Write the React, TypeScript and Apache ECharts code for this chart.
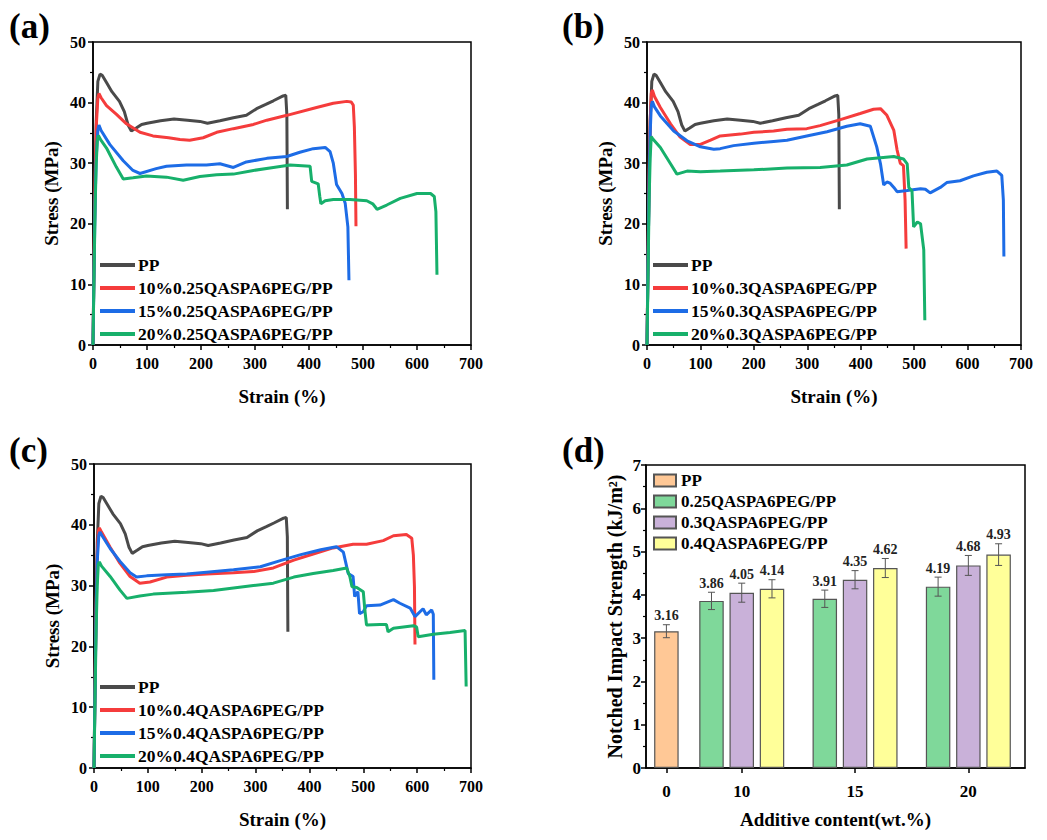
import { useEffect, useRef } from 'react'
import * as echarts from 'echarts'

const FONT = '"Liberation Serif", "Times New Roman", serif'

// stress-strain curves as [strain %, stress MPa]
const ppCurve = [[0, 0], [2, 14], [4, 27], [6, 37], [9, 43.5], [13, 44.7], [17, 44.5], [25, 43.3], [35, 41.8], [49, 40.2], [58, 38.5], [65, 36.3], [71, 35.3], [80, 35.8], [90, 36.4], [100, 36.6], [125, 37], [150, 37.3], [175, 37.1], [198, 36.9], [212, 36.6], [235, 37], [260, 37.5], [284, 37.9], [303, 39], [320, 39.7], [334, 40.3], [352, 41.1], [357, 41.2], [359, 38], [360, 22.4]]

const a10 = [[0, 0], [2, 15], [4, 28], [6, 36], [9, 40.8], [11, 41.5], [15, 40.8], [25, 39.5], [43, 38.1], [62, 36.5], [87, 35.1], [111, 34.5], [140, 34.2], [161, 33.9], [179, 33.8], [204, 34.2], [229, 35.1], [260, 35.7], [297, 36.4], [322, 37.1], [359, 37.9], [414, 39.2], [445, 39.9], [470, 40.2], [478, 40.1], [482, 39.6], [484, 36], [486, 28], [487, 19.6]]
const a15 = [[0, 0], [2, 13], [4, 24], [6, 31], [9, 35.5], [11, 36.3], [15, 35.4], [31, 33.1], [56, 30.4], [74, 28.8], [87, 28.3], [117, 29.1], [136, 29.5], [173, 29.7], [210, 29.7], [235, 29.9], [260, 29.3], [284, 30.2], [322, 30.8], [359, 31.1], [383, 31.8], [408, 32.4], [430, 32.6], [439, 31.9], [445, 30], [451, 26.5], [461, 25], [467, 23.4], [472, 19.5], [474, 10.7]]
const a20 = [[0, 0], [2, 12], [4, 23], [6, 30], [8, 33.8], [10, 34.6], [14, 33.9], [25, 32.5], [43, 29.4], [56, 27.4], [74, 27.6], [99, 27.9], [136, 27.7], [167, 27.2], [198, 27.8], [229, 28.1], [260, 28.2], [297, 28.8], [334, 29.3], [365, 29.7], [402, 29.5], [405, 27], [417, 26.6], [420, 24.5], [422, 23.3], [430, 23.8], [445, 24], [476, 24], [507, 23.8], [518, 23.3], [526, 22.4], [544, 23.1], [569, 24.2], [600, 25], [625, 25], [632, 24.5], [635, 22], [637, 11.6]]

const b10 = [[0, 0], [2, 15], [4, 29], [6, 37], [8, 41.5], [10, 42.1], [14, 41], [25, 39.2], [44, 36.5], [62, 34.3], [81, 33.1], [100, 33.1], [119, 33.8], [137, 34.5], [175, 34.8], [200, 35.1], [237, 35.3], [262, 35.6], [299, 35.7], [324, 36.2], [362, 37.2], [399, 38.2], [424, 38.9], [437, 39], [449, 37.9], [462, 35.4], [468, 32.2], [474, 30], [480, 29.6], [483, 24], [485, 15.9]]
const b15 = [[0, 0], [2, 14], [4, 27], [6, 35], [8, 39.5], [10, 40.2], [14, 39.3], [25, 37.8], [50, 35.3], [75, 33.7], [100, 32.7], [125, 32.3], [137, 32.4], [162, 32.9], [200, 33.3], [237, 33.6], [262, 33.8], [299, 34.5], [337, 35.2], [374, 36.1], [399, 36.5], [418, 36.1], [430, 32.7], [437, 29.9], [443, 26.4], [449, 26.9], [455, 26.7], [462, 26], [468, 25.3], [487, 25.5], [512, 25.8], [521, 25.7], [530, 25.1], [549, 26], [561, 26.8], [586, 27.1], [611, 27.9], [636, 28.5], [655, 28.7], [664, 28], [667, 23.9], [668, 14.6]]
const b20 = [[0, 0], [2, 12], [4, 24], [6, 31], [8, 34.4], [11, 34], [25, 32.6], [44, 29.9], [56, 28.2], [75, 28.7], [100, 28.6], [137, 28.7], [200, 28.9], [262, 29.2], [324, 29.3], [374, 29.7], [412, 30.7], [437, 30.9], [462, 31.1], [480, 30.7], [487, 29.9], [490, 26], [496, 25.4], [499, 19.5], [506, 20.3], [512, 20], [518, 15.7], [520, 4.1]]

const c10 = [[0, 0], [2, 14], [4, 27], [6, 35], [8, 39], [10, 39.5], [14, 38.8], [30, 36.3], [48, 33.7], [67, 31.5], [85, 30.4], [104, 30.6], [135, 31.4], [172, 31.7], [209, 31.9], [259, 32.1], [296, 32.3], [333, 32.9], [371, 34.2], [407, 35.2], [444, 36.2], [481, 36.8], [506, 36.8], [537, 37.4], [556, 38.2], [580, 38.4], [590, 37.8], [593, 35], [595, 29.8], [596, 20.3]]
const c15 = [[0, 0], [2, 13], [4, 26], [6, 34], [9, 38.3], [11, 38.8], [15, 38.2], [30, 36.1], [48, 34], [67, 32.1], [79, 31.4], [98, 31.6], [135, 31.8], [172, 31.9], [209, 32.2], [259, 32.6], [309, 33.1], [346, 34.1], [384, 35.1], [421, 35.9], [450, 36.4], [463, 35.5], [472, 32], [481, 31.5], [484, 28.2], [490, 29], [493, 25.4], [500, 25.7], [506, 26.7], [531, 26.8], [556, 27.7], [568, 27.1], [587, 26.3], [596, 24.9], [611, 26.2], [617, 25.2], [627, 26], [630, 25.3], [631, 14.5]]
const c20 = [[0, 0], [2, 12], [4, 23], [6, 30], [8, 33.5], [10, 33.9], [14, 33.2], [30, 31.5], [48, 29.3], [61, 27.9], [85, 28.3], [110, 28.6], [172, 28.9], [222, 29.2], [259, 29.6], [296, 30], [333, 30.4], [371, 31.4], [407, 32], [444, 32.5], [469, 32.9], [475, 31.5], [479, 29.8], [488, 29.7], [500, 29], [503, 25.9], [506, 23.5], [531, 23.6], [543, 23.6], [546, 22.4], [556, 23], [593, 23.4], [599, 23.2], [602, 21.6], [630, 22], [661, 22.3], [689, 22.6], [691, 13.4]]

// impact strength (d)
const contents = ['0', '10', '15', '20']
const ppImpact = [3.16]
const ppErr = [0.15]
const impact025 = [3.86, 3.91, 4.19]
const err025 = [0.2, 0.2, 0.22]
const impact03 = [4.05, 4.35, 4.68]
const err03 = [0.22, 0.21, 0.23]
const impact04 = [4.14, 4.62, 4.93]
const err04 = [0.21, 0.22, 0.25]

const lineColors = ['#4a4a4a', '#f53c3c', '#1d6ce6', '#17b06b']
const barColors = ['#ffc896', '#7fd89a', '#c9b1d9', '#ffff99']

// x positions of the groups in (d), in group-spacing units
const groupCenter = [0.18, 0.845, 1.845, 2.845]
const slot = 0.267

const grids = [
  { left: 93, top: 42, width: 378, height: 303 },
  { left: 647, top: 42, width: 374, height: 303 },
  { left: 94, top: 464, width: 377, height: 304 },
  { left: 646, top: 465, width: 379, height: 303 },
]

const tickStyle = { color: '#000', width: 1.5 }
const labelStyle = { color: '#000', fontFamily: FONT, fontWeight: 'bold' as const, fontSize: 16 }
const nameStyle = { color: '#000', fontFamily: FONT, fontWeight: 'bold' as const, fontSize: 19 }

function stressX(i: number) {
  return {
    type: 'value', gridIndex: i, min: 0, max: 700, interval: 100,
    name: 'Strain (%)', nameLocation: 'middle', nameGap: 42, nameTextStyle: nameStyle,
    axisLine: { show: true, lineStyle: tickStyle },
    axisTick: { show: true, length: 5, lineStyle: tickStyle },
    minorTick: { show: true, splitNumber: 2, length: 3, lineStyle: { color: '#000', width: 1.2 } },
    axisLabel: { ...labelStyle, margin: 10 },
    splitLine: { show: false },
  }
}

function stressY(i: number) {
  return {
    type: 'value', gridIndex: i, min: 0, max: 50, interval: 10,
    name: 'Stress (MPa)', nameLocation: 'middle', nameGap: 32, nameTextStyle: nameStyle,
    axisLine: { show: true, lineStyle: tickStyle },
    axisTick: { show: true, length: 5, lineStyle: tickStyle },
    minorTick: { show: true, splitNumber: 2, length: 3, lineStyle: { color: '#000', width: 1.2 } },
    axisLabel: { ...labelStyle, margin: 7 },
    splitLine: { show: false },
  }
}

const panels = [
  { key: 'a', label: '0.25', curves: [ppCurve, a10, a15, a20] },
  { key: 'b', label: '0.3', curves: [ppCurve, b10, b15, b20] },
  { key: 'c', label: '0.4', curves: [ppCurve, c10, c15, c20] },
]

const legendPos = [
  { left: 100, top: 256 },
  { left: 653, top: 256 },
  { left: 100, top: 678 },
]

export default function App() {
  const ref = useRef<HTMLDivElement>(null)

  useEffect(() => {
    document.body.style.margin = '0'
    if (!ref.current) return
    const chart = echarts.init(ref.current, null, { renderer: 'svg' })

    const series: any[] = []
    const legends: any[] = []
    panels.forEach((p, i) => {
      const names = ['PP', `10%${p.label}QASPA6PEG/PP`, `15%${p.label}QASPA6PEG/PP`, `20%${p.label}QASPA6PEG/PP`]
      names.forEach((n, k) => {
        series.push({
          type: 'line', name: `${p.key}|${n}`, xAxisIndex: i, yAxisIndex: i,
          data: p.curves[k], showSymbol: false, color: lineColors[k],
          lineStyle: { width: 3, color: lineColors[k] },
        })
      })
      legends.push({
        ...legendPos[i], orient: 'vertical', padding: 0, itemGap: 5,
        icon: 'rect', itemWidth: 35, itemHeight: 4,
        data: names.map((n) => `${p.key}|${n}`),
        formatter: (name: string) => name.split('|')[1],
        textStyle: { color: '#000', fontFamily: FONT, fontWeight: 'bold', fontSize: 17.5, lineHeight: 17, padding: [0, 0, 0, -2] },
      })
    })

    const barNames = ['PP', '0.25QASPA6PEG/PP', '0.3QASPA6PEG/PP', '0.4QASPA6PEG/PP']
    const barSets = [
      { vals: ppImpact, errs: ppErr, pos: [groupCenter[0]] },
      { vals: impact025, errs: err025, pos: groupCenter.slice(1).map((c) => c - slot) },
      { vals: impact03, errs: err03, pos: groupCenter.slice(1) },
      { vals: impact04, errs: err04, pos: groupCenter.slice(1).map((c) => c + slot) },
    ]
    const errData: number[][] = []
    barSets.forEach((s, k) => {
      series.push({
        type: 'bar', name: `d|${barNames[k]}`, xAxisIndex: 3, yAxisIndex: 3,
        barWidth: 24.5, barGap: '-100%',
        data: s.vals.map((v, j) => [s.pos[j], v]),
        itemStyle: { color: barColors[k], borderColor: '#555', borderWidth: 1.2 },
      })
      s.vals.forEach((v, j) => errData.push([s.pos[j], v, s.errs[j]]))
    })
    series.push({
      type: 'custom', xAxisIndex: 3, yAxisIndex: 3, data: errData, z: 5,
      encode: { x: 0, y: 1 },
      renderItem: (_params: any, api: any) => {
        const x = api.value(0)
        const y = api.value(1)
        const e = api.value(2)
        const top = api.coord([x, y + e])
        const bot = api.coord([x, y - e])
        const st = { stroke: '#555', lineWidth: 1 }
        return {
          type: 'group',
          children: [
            { type: 'line', shape: { x1: top[0], y1: top[1], x2: bot[0], y2: bot[1] }, style: st },
            { type: 'line', shape: { x1: top[0] - 3.5, y1: top[1], x2: top[0] + 3.5, y2: top[1] }, style: st },
            { type: 'line', shape: { x1: bot[0] - 3.5, y1: bot[1], x2: bot[0] + 3.5, y2: bot[1] }, style: st },
            {
              type: 'text',
              style: {
                text: y.toFixed(2), x: top[0], y: top[1] - 2, align: 'center', verticalAlign: 'bottom',
                fontFamily: FONT, fontWeight: 'bold', fontSize: 14, fill: '#222',
              },
            },
          ],
        }
      },
    })
    legends.push({
      left: 653, top: 472, orient: 'vertical', padding: 0, itemGap: 4,
      icon: 'rect', itemWidth: 22, itemHeight: 12,
      data: barNames.map((n) => `d|${n}`),
      formatter: (name: string) => name.split('|')[1],
      textStyle: { color: '#000', fontFamily: FONT, fontWeight: 'bold', fontSize: 17, lineHeight: 17 },
    })

    const panelLabel = (text: string, left: number, top: number) => ({
      type: 'text', left, top, style: { text, fontFamily: FONT, fontWeight: 'bold', fontSize: 35, fill: '#000' },
    })

    chart.setOption({
      animation: false,
      backgroundColor: '#fff',
      textStyle: { fontFamily: FONT },
      grid: grids.map((g) => ({ ...g, show: true, borderColor: '#000', borderWidth: 1.5, backgroundColor: 'transparent' })),
      xAxis: [
        stressX(0), stressX(1), stressX(2),
        {
          type: 'value', gridIndex: 3, min: 0, max: 3.345,
          name: 'Additive content(wt.%)', nameLocation: 'middle', nameGap: 42, nameTextStyle: nameStyle,
          axisLine: { show: true, lineStyle: tickStyle },
          axisTick: { show: true, length: 5, lineStyle: tickStyle, customValues: groupCenter },
          axisLabel: {
            ...labelStyle, fontSize: 17, margin: 15, customValues: groupCenter,
            formatter: (v: number) => {
              let best = 0
              groupCenter.forEach((c, i) => { if (Math.abs(c - v) < Math.abs(groupCenter[best] - v)) best = i })
              return contents[best]
            },
          },
          splitLine: { show: false },
        },
      ],
      yAxis: [
        stressY(0), stressY(1), stressY(2),
        {
          type: 'value', gridIndex: 3, min: 0, max: 7, interval: 1,
          name: 'Notched Impact Strength (kJ/m²)', nameLocation: 'middle', nameGap: 21,
          nameTextStyle: { ...nameStyle, fontSize: 20 },
          axisLine: { show: true, lineStyle: tickStyle },
          axisTick: { show: true, length: 5, lineStyle: tickStyle },
          minorTick: { show: true, splitNumber: 2, length: 3, lineStyle: { color: '#000', width: 1.2 } },
          axisLabel: { ...labelStyle, fontSize: 17, margin: 5 },
          splitLine: { show: false },
        },
      ],
      legend: legends,
      graphic: [
        panelLabel('(a)', 9, 9),
        panelLabel('(b)', 562, 9),
        panelLabel('(c)', 9, 433),
        panelLabel('(d)', 562, 433),
      ],
      series,
    })

    return () => { chart.dispose() }
  }, [])

  return <div ref={ref} style={{ width: 1047, height: 840 }} />
}
